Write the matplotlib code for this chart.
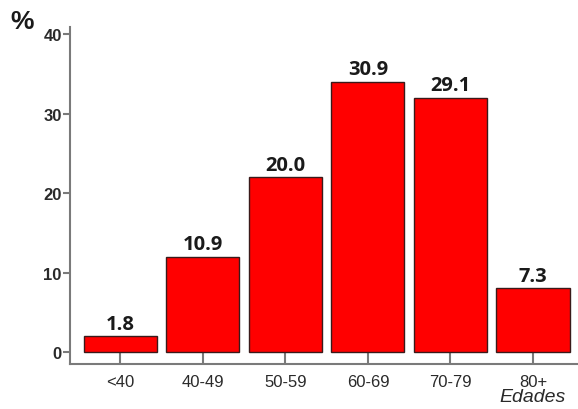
import numpy as np
import matplotlib.pyplot as plt

# age groups and share of cases (%)
grupos = ['<40', '40-49', '50-59', '60-69', '70-79', '80+']
porcentaje = [1.8, 10.9, 20.0, 30.9, 29.1, 7.3]

# scale of the printed axis relative to the percentages
escala = 1.1
ticks_y = [0, 10, 20, 30, 40]

fig = plt.figure(figsize=(5.78, 4.10), dpi=100)
ax = fig.add_axes([70/578, 45/410, 508/578, 337/410])

x = np.arange(len(grupos))
barras = ax.bar(x, porcentaje, width=0.885, color='#ff0000',
                edgecolor='#3a1a1a', linewidth=1.0, zorder=2)

for xi, v in zip(x, porcentaje):
    ax.text(xi, v + 0.3, '%.1f' % v, ha='center', va='bottom',
            fontsize=14.5, fontweight='bold', color='#1a1a1a',
            family='Open Sans')

ax.set_xlim(-0.61, 5.545)
ax.set_ylim(-1.5/escala, 40.9/escala)

ax.set_yticks([t/escala for t in ticks_y])
ax.set_yticklabels([str(t) for t in ticks_y])
ax.set_xticks(x)
ax.set_xticklabels(grupos)

for s in ['top', 'right']:
    ax.spines[s].set_visible(False)
for s in ['left', 'bottom']:
    ax.spines[s].set_color('#7a7a7a')
    ax.spines[s].set_linewidth(1.5)

ax.tick_params(axis='y', direction='out', length=5, width=1.5, color='#7a7a7a',
               labelsize=12, labelcolor='#2a2a2a', pad=1)
ax.tick_params(axis='x', direction='in', length=12, width=1.5, color='#7a7a7a',
               labelsize=12, labelcolor='#2a2a2a', pad=7)
for lab in ax.get_yticklabels():
    lab.set_fontweight('bold')
    lab.set_family('Liberation Sans')
for lab in ax.get_xticklabels():
    lab.set_family('Liberation Sans')

fig.text(22/578, 1 - 22/410, '%', ha='center', va='center', fontsize=19,
         fontweight='bold', color='#1a1a1a', family='Liberation Sans')
fig.text(533/578, 1 - 398/410, 'Edades', ha='center', va='center', fontsize=14,
         style='italic', color='#2a2a2a', family='Liberation Sans')

fig.savefig('out.png', dpi=100)
